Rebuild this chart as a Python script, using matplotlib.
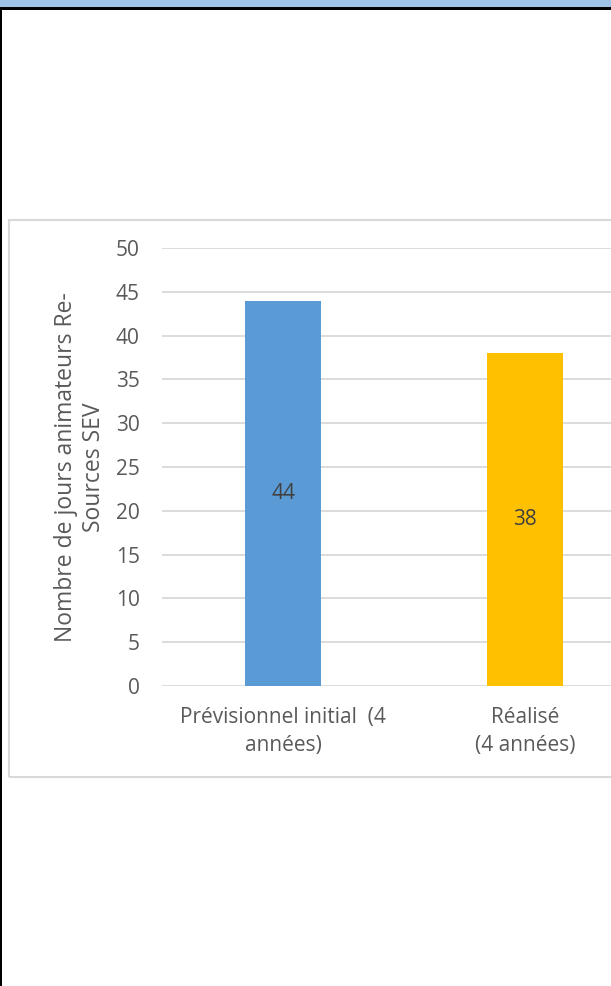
import matplotlib
matplotlib.use("Agg")
import matplotlib.pyplot as plt
from matplotlib.patches import Rectangle

# data
categories = ['Prévisionnel initial  (4\nannées)', 'Réalisé\n(4 années)']
values     = [44, 38]
bar_colors = ['#5B9BD5', '#FFC000']
y_ticks    = [0, 5, 10, 15, 20, 25, 30, 35, 40, 45, 50]
y_label    = 'Nombre de jours animateurs Re-\nSources SEV'

plt.rcParams['font.family'] = ['Open Sans', 'DejaVu Sans']

W, H = 611, 986
fig = plt.figure(figsize=(W / 100, H / 100), dpi=100)

# page decorations: blue header band, black frame, chart box
fig.patches.append(Rectangle((0, 1 - 7 / H), 1, 7 / H, transform=fig.transFigure,
                             facecolor='#9DC3E6', edgecolor='none'))
fig.patches.append(Rectangle((0, 1 - 9.5 / H), 1, 2.5 / H, transform=fig.transFigure,
                             facecolor='black', edgecolor='none'))
fig.patches.append(Rectangle((0, 0), 2 / W, 1 - 8 / H, transform=fig.transFigure,
                             facecolor='black', edgecolor='none'))
fig.patches.append(Rectangle((9 / W, 1 - 777 / H), 700 / W, (777 - 220) / H,
                             transform=fig.transFigure, facecolor='none',
                             edgecolor='#D9D9D9', linewidth=1.5))

# plot area
x0, x1 = 162, 611
yb, yt = 686, 248
ax = fig.add_axes([x0 / W, 1 - yb / H, (x1 - x0) / W, (yb - yt) / H])
ax.set_facecolor('none')

xs = range(len(values))
ax.bar(xs, values, width=0.314, color=bar_colors, zorder=3)
for x, v in zip(xs, values):
    ax.text(x, v / 2, str(v), ha='center', va='center', fontsize=15,
            color='#404040', zorder=4)

ax.set_xlim(-0.5, -0.5 + (x1 - x0) / 242)
ax.set_ylim(0, 50)
ax.set_yticks(y_ticks)
ax.set_xticks(list(xs))
ax.set_xticklabels(categories, linespacing=1.45)
ax.grid(axis='y', color='#D9D9D9', linewidth=1.3, zorder=0)
ax.set_axisbelow(True)
for s in ax.spines.values():
    s.set_visible(False)
ax.tick_params(axis='both', length=0, labelsize=15, labelcolor='#595959')
ax.tick_params(axis='y', pad=16)
ax.tick_params(axis='x', pad=15)

fig.text(80 / W, 1 - 467 / H, y_label, rotation=90, ha='center', va='center',
         fontsize=16.5, color='#595959', linespacing=1.27)

fig.savefig('out.png', dpi=100)
